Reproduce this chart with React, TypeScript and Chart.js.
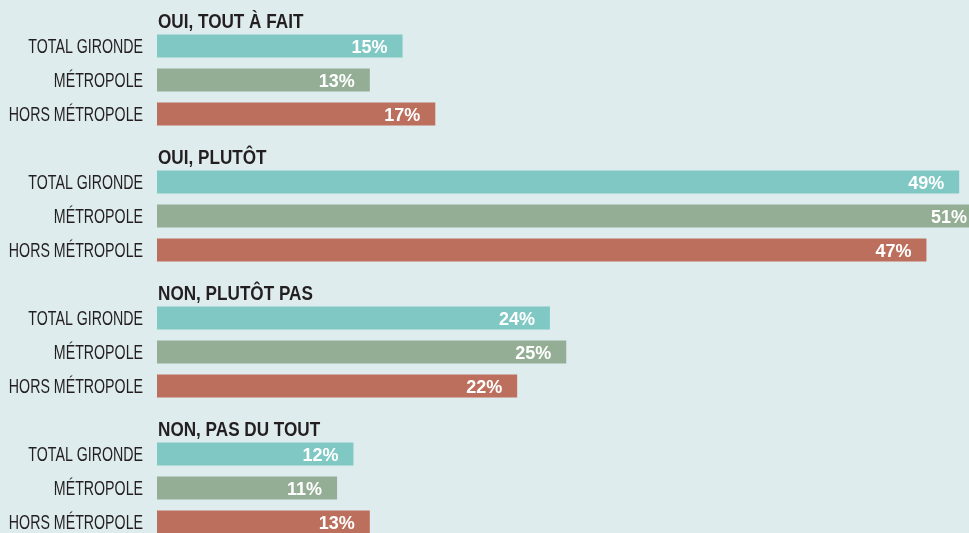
import React, { useEffect, useRef } from "react";
import { Chart, registerables } from "chart.js";

Chart.register(...registerables);

const groups = ["OUI, TOUT À FAIT", "OUI, PLUTÔT", "NON, PLUTÔT PAS", "NON, PAS DU TOUT"];
const categories = ["TOTAL GIRONDE", "MÉTROPOLE", "HORS MÉTROPOLE"];
const totalGironde = [15, 49, 24, 12];
const metropole = [13, 51, 25, 11];
const horsMetropole = [17, 47, 22, 13];
const seriesColors = ["#7fc8c4", "#94ae95", "#bd6f5d"];

const BG = "#dfecee";
const TEXT = "#231f20";
const SANS = '"Liberation Sans", Arial, sans-serif';

export default function App() {
  const ref = useRef<HTMLCanvasElement | null>(null);

  useEffect(() => {
    document.body.style.margin = "0";
    const series = [totalGironde, metropole, horsMetropole];
    const labels: string[] = [];
    const values: (number | null)[] = [];
    const colors: string[] = [];
    const headers: (string | null)[] = [];
    groups.forEach((g, gi) => {
      labels.push("");
      values.push(null);
      colors.push("rgba(0,0,0,0)");
      headers.push(g);
      categories.forEach((c, ci) => {
        labels.push(c);
        values.push(series[ci][gi]);
        colors.push(seriesColors[ci]);
        headers.push(null);
      });
    });

    const labelPlugin = {
      id: "labelPlugin",
      afterDatasetsDraw(chart: any) {
        const ctx = chart.ctx;
        const area = chart.chartArea;
        const yScale = chart.scales.y;
        const meta = chart.getDatasetMeta(0);
        ctx.save();
        ctx.textBaseline = "alphabetic";
        // group headers (bold, condensed)
        ctx.fillStyle = TEXT;
        ctx.font = `bold 20px ${SANS}`;
        ctx.textAlign = "left";
        headers.forEach((h, i) => {
          if (!h) return;
          const y = yScale.getPixelForValue(i) + 15.5;
          ctx.save();
          ctx.translate(area.left + 1, y);
          ctx.scale(0.857, 1);
          ctx.fillText(h, 0, 0);
          ctx.restore();
        });
        // category labels (condensed)
        ctx.font = `20px ${SANS}`;
        ctx.textAlign = "right";
        labels.forEach((l, i) => {
          if (!l) return;
          const y = yScale.getPixelForValue(i) + 7;
          ctx.save();
          ctx.translate(area.left - 14, y);
          ctx.scale(0.71, 1);
          ctx.fillText(l, 0, 0);
          ctx.restore();
        });
        // value labels
        ctx.fillStyle = "#ffffff";
        ctx.font = `bold 18px ${SANS}`;
        ctx.textAlign = "right";
        meta.data.forEach((bar: any, i: number) => {
          const v = values[i];
          if (v == null) return;
          const x = Math.min(bar.x - 15, area.right - 2);
          ctx.fillText(`${v}%`, x, bar.y + 6.5);
        });
        ctx.restore();
      },
    };

    const chart = new Chart(ref.current as HTMLCanvasElement, {
      type: "bar",
      data: {
        labels,
        datasets: [
          {
            data: values as any,
            backgroundColor: colors,
            borderWidth: 0,
            categoryPercentage: 1,
            barPercentage: 0.68,
          },
        ],
      },
      options: {
        indexAxis: "y",
        animation: false,
        responsive: false,
        devicePixelRatio: 1,
        layout: { padding: { left: 157, right: 0, top: 0, bottom: 0 } },
        plugins: {
          legend: { display: false },
          tooltip: { enabled: false },
        },
        scales: {
          x: {
            display: false,
            min: 0,
            max: 49.6,
          },
          y: {
            type: "category",
            display: false,
          },
        },
      },
      plugins: [labelPlugin],
    });
    return () => chart.destroy();
  }, []);

  return (
    <div style={{ position: "relative", width: 969, height: 533, overflow: "hidden", background: BG }}>
      <canvas
        ref={ref}
        width={969}
        height={544}
        style={{ position: "absolute", left: 0, top: -5, width: 969, height: 544 }}
      />
    </div>
  );
}
